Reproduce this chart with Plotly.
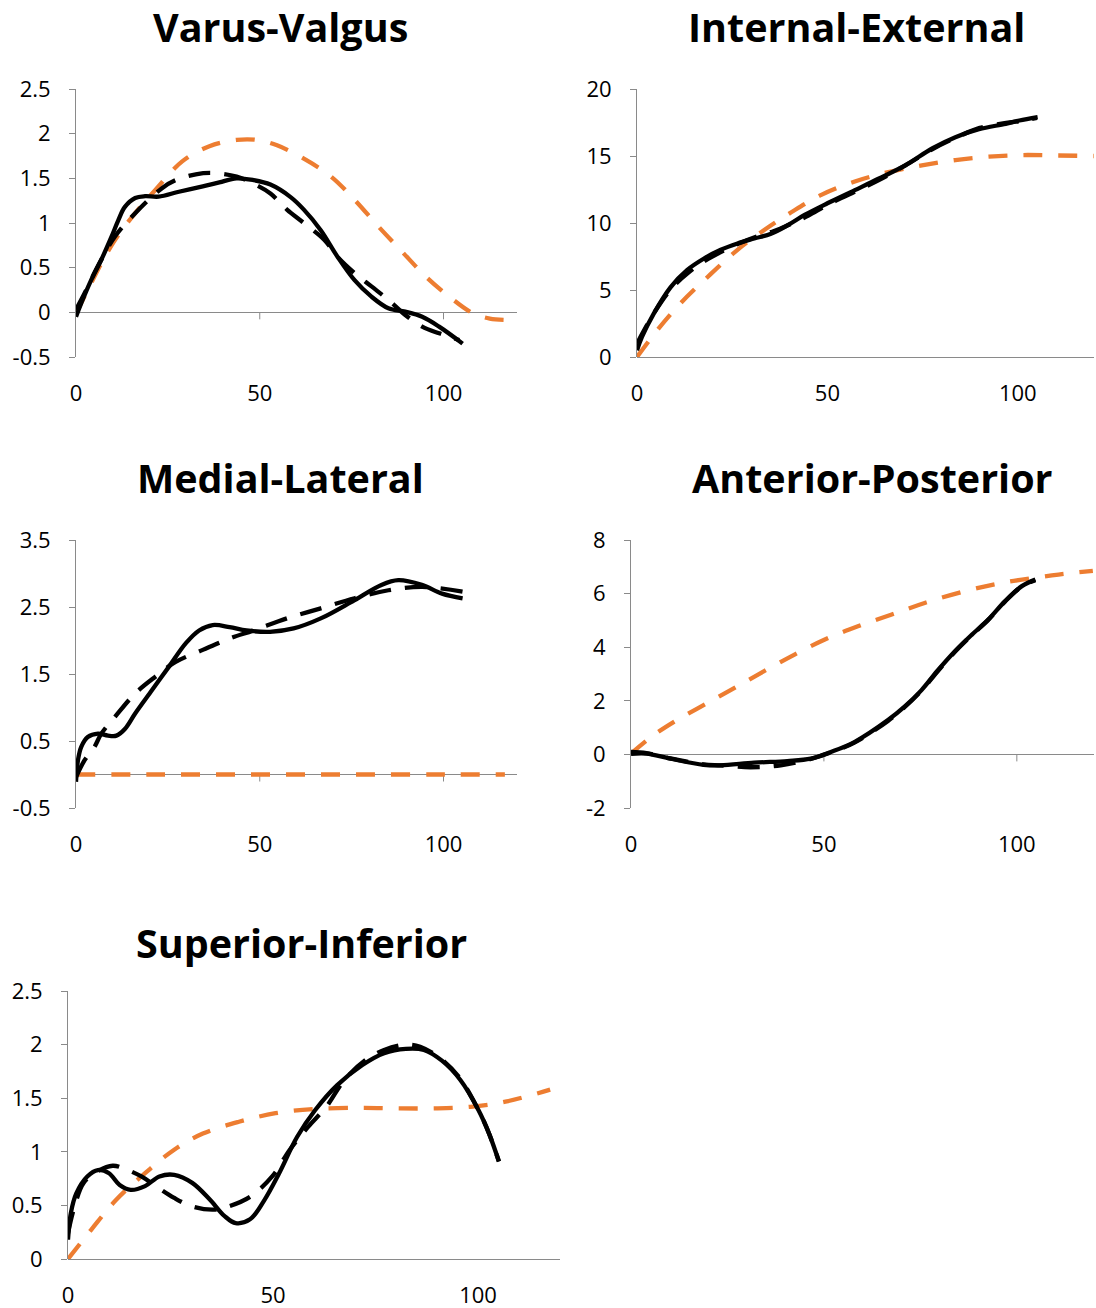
import plotly.graph_objects as go

# ---------------- data (knee kinematics vs flexion angle) ----------------
# Varus-Valgus
vv_solid_x = [0, 1.4, 4, 6.9, 9.7, 11.5, 13.3, 16.1, 18.8, 22.5, 28, 34.5, 39, 43.7, 48.3, 52.9, 58.4, 62, 66.6, 71.2, 75.8, 80.4, 85, 89.6, 94.2, 98.8, 105.2]
vv_solid_y = [-0.05, 0.1, 0.35, 0.59, 0.85, 1.03, 1.18, 1.28, 1.3, 1.295, 1.35, 1.41, 1.455, 1.5, 1.48, 1.43, 1.29, 1.15, 0.92, 0.62, 0.36, 0.175, 0.045, 0.007, -0.05, -0.16, -0.35]
vv_dash_x = [0, 2.3, 5, 6.9, 10.6, 16.1, 23.4, 27.1, 32.6, 37.2, 43.7, 48.3, 52.9, 57.4, 62, 67.6, 71.2, 75.8, 80.4, 85, 89.6, 94.2, 98.8, 104.3]
vv_dash_y = [0.03, 0.21, 0.44, 0.59, 0.85, 1.11, 1.39, 1.48, 1.545, 1.56, 1.52, 1.44, 1.33, 1.15, 1.0, 0.81, 0.62, 0.44, 0.29, 0.14, -0.03, -0.16, -0.235, -0.31]
vv_model_x = [0, 3.2, 6.9, 10.6, 16.1, 21.6, 28.9, 36.3, 43.7, 49.2, 54.7, 62, 69.4, 75.8, 82.3, 88.7, 95.2, 101.6, 108, 112.6, 116.7]
vv_model_y = [-0.01, 0.25, 0.55, 0.81, 1.11, 1.37, 1.69, 1.86, 1.93, 1.93, 1.87, 1.72, 1.52, 1.26, 0.96, 0.68, 0.4, 0.175, -0.01, -0.07, -0.085]

# Internal-External
ie_solid_x = [0, 1.3, 4.4, 8.8, 13.2, 17.6, 22, 26.4, 30.8, 35.2, 39.6, 44, 50, 57.2, 63.4, 70.4, 77.5, 83.6, 89.8, 96.8, 100.4, 105.2]
ie_solid_y = [0.5, 1.5, 3.24, 5.2, 6.5, 7.35, 8.0, 8.47, 8.84, 9.2, 9.84, 10.6, 11.47, 12.45, 13.3, 14.3, 15.56, 16.4, 17.0, 17.4, 17.65, 17.9]
ie_dash_x = [0, 1.5, 4.5, 9, 13.5, 18, 22.5, 27, 31.5, 36, 40.5, 45, 50, 57, 63.5, 70.5, 77.5, 84, 90, 96.5, 100.5, 105]
ie_dash_y = [1.0, 1.8, 3.3, 5.1, 6.3, 7.2, 7.9, 8.5, 9.0, 9.4, 9.95, 10.55, 11.35, 12.3, 13.2, 14.3, 15.5, 16.4, 17.1, 17.45, 17.6, 17.85]
ie_model_x = [0, 5.3, 11.4, 19.4, 26.4, 33.5, 40.5, 48.4, 57.2, 66, 74.8, 83.6, 92.4, 101.2, 110, 120]
ie_model_y = [0, 2.0, 4.0, 6.2, 8.0, 9.5, 10.8, 12.1, 13.1, 13.8, 14.3, 14.7, 14.95, 15.07, 15.04, 15.0]

# Medial-Lateral
ml_solid_x = [0, 0.5, 1.4, 3.2, 6, 8.7, 11, 13.3, 16.1, 20.7, 25.3, 29.9, 33.5, 37.2, 41.8, 46.4, 52.8, 59.2, 66.6, 75.7, 83.1, 87.7, 94.1, 99.6, 105.2]
ml_solid_y = [-0.11, 0.2, 0.41, 0.56, 0.61, 0.58, 0.58, 0.68, 0.91, 1.26, 1.61, 1.96, 2.15, 2.23, 2.2, 2.15, 2.13, 2.18, 2.33, 2.6, 2.83, 2.9, 2.83, 2.7, 2.63]
ml_dash_x = [0, 2.3, 5, 6.9, 10.6, 16.1, 21.6, 27.1, 34.5, 41.8, 48.3, 57.4, 66.6, 75.8, 85, 94.2, 105.2]
ml_dash_y = [-0.04, 0.21, 0.41, 0.61, 0.86, 1.21, 1.46, 1.68, 1.86, 2.03, 2.15, 2.33, 2.48, 2.63, 2.75, 2.8, 2.73]
ml_model_x = [0, 20, 40, 60, 80, 100, 116.7]
ml_model_y = [0, 0, 0, 0, 0, 0, 0]

# Anterior-Posterior
ap_solid_x = [0, 4, 10.2, 18.8, 23.2, 31.9, 40.5, 46.6, 51.8, 57.9, 66.6, 70.9, 75.3, 79.6, 83.9, 88.3, 92.6, 96.9, 101.3, 104.8]
ap_solid_y = [0.02, 0.03, -0.16, -0.39, -0.41, -0.31, -0.25, -0.16, 0.09, 0.46, 1.28, 1.78, 2.4, 3.15, 3.84, 4.46, 5.03, 5.71, 6.28, 6.53]
ap_dash_x = [0, 4, 10.2, 18.8, 23.2, 31, 38.8, 46.6, 51.8, 57.9, 66.6, 70.9, 75.3, 79.6, 83.9, 88.3, 92.6, 96.9, 101.3, 104.8]
ap_dash_y = [0.09, 0.05, -0.15, -0.37, -0.41, -0.48, -0.41, -0.17, 0.07, 0.44, 1.25, 1.76, 2.38, 3.12, 3.82, 4.45, 5.02, 5.7, 6.27, 6.5]
ap_model_x = [0, 5.8, 11.9, 18.8, 25.8, 32.7, 41.4, 50.1, 58.8, 67.4, 76.1, 86.5, 96.1, 105.2, 110.8, 119.7]
ap_model_y = [0.03, 0.71, 1.28, 1.84, 2.4, 2.96, 3.65, 4.28, 4.78, 5.21, 5.65, 6.09, 6.4, 6.6, 6.71, 6.85]

# Superior-Inferior
si_solid_x = [0, 0.7, 2, 4.7, 7.3, 10, 12.6, 15.3, 18.8, 22.3, 25.9, 30.3, 34.7, 38.2, 40.9, 44.4, 47.9, 51.5, 55.9, 60.3, 65.6, 71.8, 77.1, 82.4, 86.8, 91.2, 95.7, 100.1, 102.7, 105.1]
si_solid_y = [0.18, 0.43, 0.61, 0.77, 0.83, 0.8, 0.69, 0.645, 0.68, 0.77, 0.785, 0.71, 0.55, 0.4, 0.335, 0.37, 0.55, 0.8, 1.14, 1.39, 1.62, 1.81, 1.92, 1.96, 1.95, 1.85, 1.67, 1.39, 1.17, 0.91]
si_dash_x = [0, 1.6, 3.8, 7.3, 10.9, 13.9, 17.9, 21.4, 25.9, 30.3, 35.6, 39.1, 44.4, 49.8, 54.1, 58.5, 63, 67.4, 72.7, 77.1, 82.4, 85.9, 91.2, 95.7, 100.1, 102.7, 105.1]
si_dash_y = [0.24, 0.49, 0.71, 0.82, 0.87, 0.84, 0.77, 0.68, 0.57, 0.49, 0.46, 0.49, 0.58, 0.77, 1.02, 1.23, 1.42, 1.67, 1.86, 1.95, 2.0, 1.98, 1.86, 1.68, 1.39, 1.17, 0.91]
si_model_x = [0, 5.6, 11.7, 18.8, 25.9, 32.9, 41.7, 50.6, 60.3, 71.8, 80.6, 89.4, 98.2, 107, 117.6]
si_model_y = [0, 0.27, 0.55, 0.8, 1.02, 1.17, 1.28, 1.36, 1.4, 1.41, 1.405, 1.405, 1.42, 1.47, 1.58]

titles = ["Varus-Valgus", "Internal-External", "Medial-Lateral", "Anterior-Posterior", "Superior-Inferior"]
y_ranges = [(-0.5, 2.5), (0, 20), (-0.5, 3.5), (-2, 8), (0, 2.5)]
vv_yticks = ["-0.5", "0", "0.5", "1", "1.5", "2", "2.5"]
ie_yticks = ["0", "5", "10", "15", "20"]
ml_yticks = ["-0.5", "0.5", "1.5", "2.5", "3.5"]
ap_yticks = ["-2", "0", "2", "4", "6", "8"]
si_yticks = ["0", "0.5", "1", "1.5", "2", "2.5"]
y_ticklabels = [vv_yticks, ie_yticks, ml_yticks, ap_yticks, si_yticks]
x_range = (0, 120)
x_ticks = ["0", "50", "100"]

series = [
    (vv_solid_x, vv_solid_y, vv_dash_x, vv_dash_y, vv_model_x, vv_model_y),
    (ie_solid_x, ie_solid_y, ie_dash_x, ie_dash_y, ie_model_x, ie_model_y),
    (ml_solid_x, ml_solid_y, ml_dash_x, ml_dash_y, ml_model_x, ml_model_y),
    (ap_solid_x, ap_solid_y, ap_dash_x, ap_dash_y, ap_model_x, ap_model_y),
    (si_solid_x, si_solid_y, si_dash_x, si_dash_y, si_model_x, si_model_y),
]

# ---------------- layout geometry (pixels on a 1096 x 1308 page) ----------------
W, H = 1096, 1308
boxes = [  # left, right, top, bottom of each plot area
    (76, 517, 89, 357),
    (637, 1094, 89, 357),
    (76, 517, 540, 808),
    (631, 1094, 540, 808),
    (68, 560, 991, 1259),
]
title_pos = [(280, 27), (856, 27), (280, 478), (872, 478), (301, 943)]

AXIS_GREY = "#8a8a8a"
ORANGE = "#ED7D31"
FONT = "Open Sans"
LW = 4.3
TICK_SIZE = 22

fig = go.Figure()
layout = dict(
    width=W, height=H,
    margin=dict(l=0, r=0, t=0, b=0, pad=0, autoexpand=False),
    paper_bgcolor="white", plot_bgcolor="white",
    showlegend=False,
    font=dict(family=FONT, color="black", size=TICK_SIZE),
    shapes=[], annotations=[],
)

x_vals = [float(t) for t in x_ticks]

for i, (box, data) in enumerate(zip(boxes, series)):
    n = "" if i == 0 else str(i + 1)
    xa, ya = "x" + n, "y" + n
    l, r, t, b = box
    sx, sy, dx, dy, mx, my = data
    fig.add_trace(go.Scatter(x=mx, y=my, mode="lines", xaxis=xa, yaxis=ya,
                             line=dict(color=ORANGE, width=LW, dash="19px,16px", shape="spline")))
    fig.add_trace(go.Scatter(x=dx, y=dy, mode="lines", xaxis=xa, yaxis=ya,
                             line=dict(color="black", width=LW, dash="22px,14px", shape="spline")))
    fig.add_trace(go.Scatter(x=sx, y=sy, mode="lines", xaxis=xa, yaxis=ya,
                             line=dict(color="black", width=LW, shape="spline")))

    layout["xaxis" + n] = dict(
        domain=[l / W, r / W], anchor=ya, range=list(x_range), automargin=False,
        tickmode="array", tickvals=x_vals, ticktext=x_ticks,
        showgrid=False, zeroline=False, showline=False, ticks="",
        ticklabelstandoff=21, tickfont=dict(size=TICK_SIZE, family=FONT),
    )
    lo, hi = y_ranges[i]
    labels = y_ticklabels[i]
    layout["yaxis" + n] = dict(
        domain=[1 - b / H, 1 - t / H], anchor=xa, range=[lo, hi], automargin=False,
        tickmode="array", tickvals=[float(s) for s in labels], ticktext=labels,
        showgrid=False, showline=True, linecolor=AXIS_GREY, linewidth=1,
        ticks="outside", ticklen=6, tickcolor=AXIS_GREY, tickwidth=1,
        zeroline=True, zerolinecolor=AXIS_GREY, zerolinewidth=1,
        ticklabelstandoff=14, tickfont=dict(size=TICK_SIZE, family=FONT),
    )
    # tick marks hanging below the horizontal axis at y = 0
    for xv in x_vals[1:]:
        layout["shapes"].append(dict(
            type="line", xref=xa, yref=ya, x0=xv, x1=xv,
            ysizemode="pixel", yanchor=0, y0=0, y1=-7,
            line=dict(color=AXIS_GREY, width=1), layer="below",
        ))
    tx, ty = title_pos[i]
    layout["annotations"].append(dict(
        text="<b>" + titles[i] + "</b>", xref="paper", yref="paper",
        x=tx / W, y=1 - ty / H, xanchor="center", yanchor="middle",
        showarrow=False, font=dict(size=39.5, family=FONT, color="black"),
    ))

fig.update_layout(**layout)
fig.write_html("out.html")
